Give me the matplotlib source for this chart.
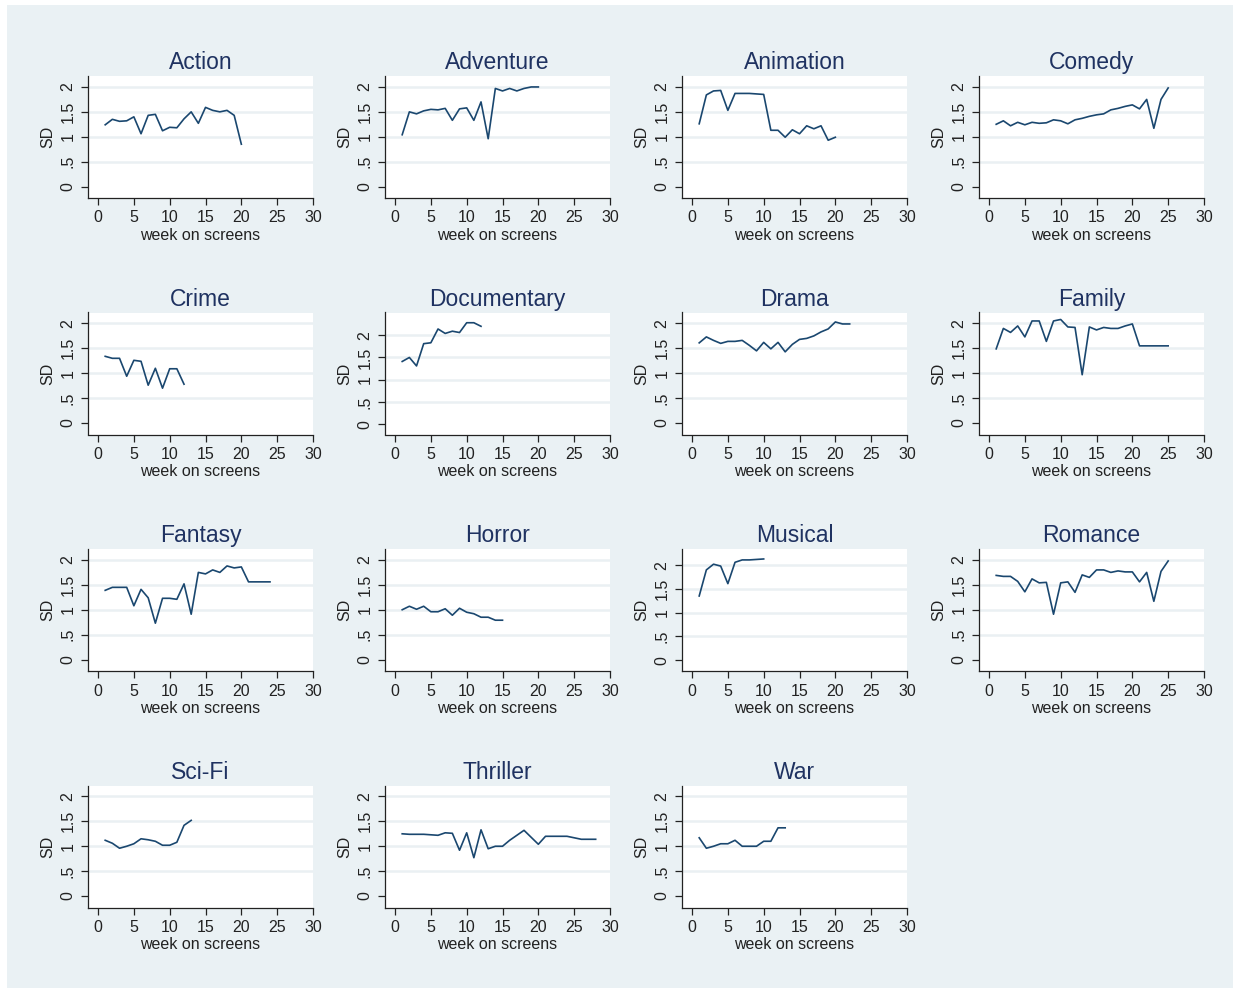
import numpy as np
import matplotlib
matplotlib.use("Agg")
import matplotlib.pyplot as plt
from matplotlib.patches import Rectangle

# SD of weekly box-office by genre, per week on screens
genres = ["Action", "Adventure", "Animation", "Comedy",
          "Crime", "Documentary", "Drama", "Family",
          "Fantasy", "Horror", "Musical", "Romance",
          "Sci-Fi", "Thriller", "War"]

sd_action = [1.24, 1.35, 1.31, 1.32, 1.40, 1.06, 1.43, 1.45, 1.12, 1.19,
             1.18, 1.36, 1.50, 1.27, 1.59, 1.53, 1.50, 1.53, 1.43, 0.85]
sd_adventure = [1.04, 1.50, 1.46, 1.52, 1.55, 1.54, 1.57, 1.33, 1.56, 1.58,
                1.33, 1.70, 0.96, 1.97, 1.92, 1.97, 1.92, 1.97, 2.00, 2.00]
sd_animation = [1.26, 1.84, 1.92, 1.93, 1.53, 1.87, 1.87, 1.87, 1.86, 1.85,
                1.13, 1.13, 0.99, 1.14, 1.06, 1.22, 1.16, 1.22, 0.93, 0.99]
sd_comedy = [1.25, 1.32, 1.22, 1.29, 1.24, 1.29, 1.27, 1.28, 1.34, 1.32,
             1.26, 1.34, 1.37, 1.41, 1.44, 1.46, 1.54, 1.57, 1.61, 1.64,
             1.56, 1.75, 1.17, 1.75, 1.98]
sd_crime = [1.34, 1.30, 1.30, 0.94, 1.26, 1.24, 0.76, 1.10, 0.70, 1.09,
            1.09, 0.78]
sd_documentary = [1.41, 1.50, 1.31, 1.81, 1.83, 2.14, 2.04, 2.09, 2.06, 2.28,
                  2.28, 2.20]
sd_drama = [1.61, 1.73, 1.66, 1.60, 1.64, 1.64, 1.66, 1.56, 1.45, 1.62,
            1.49, 1.62, 1.43, 1.58, 1.68, 1.70, 1.75, 1.83, 1.89, 2.03,
            1.99, 1.99]
sd_family = [1.49, 1.90, 1.82, 1.95, 1.73, 2.05, 2.05, 1.64, 2.05, 2.08,
             1.93, 1.92, 0.97, 1.93, 1.87, 1.92, 1.90, 1.90, 1.95, 1.99,
             1.55, 1.55, 1.55, 1.55, 1.55]
sd_fantasy = [1.39, 1.45, 1.45, 1.45, 1.08, 1.41, 1.24, 0.73, 1.23, 1.23,
              1.21, 1.52, 0.91, 1.75, 1.72, 1.80, 1.75, 1.88, 1.84, 1.86,
              1.56, 1.56, 1.56, 1.56]
sd_horror = [1.00, 1.07, 1.01, 1.07, 0.96, 0.96, 1.02, 0.89, 1.03, 0.95,
             0.92, 0.85, 0.85, 0.79, 0.79]
sd_musical = [1.35, 1.90, 2.02, 1.98, 1.61, 2.06, 2.11, 2.11, 2.12, 2.13]
sd_romance = [1.69, 1.67, 1.67, 1.57, 1.36, 1.62, 1.54, 1.55, 0.91, 1.54,
              1.56, 1.35, 1.70, 1.65, 1.80, 1.80, 1.75, 1.78, 1.76, 1.76,
              1.56, 1.75, 1.17, 1.77, 1.98]
sd_scifi = [1.12, 1.06, 0.96, 1.00, 1.05, 1.15, 1.13, 1.10, 1.02, 1.02,
            1.08, 1.42, 1.52]
sd_thriller = [1.25, 1.24, 1.24, 1.24, 1.23, 1.22, 1.27, 1.26, 0.92, 1.27,
               0.77, 1.33, 0.95, 1.00, 1.00, 1.12, 1.22, 1.32, 1.18, 1.04,
               1.20, 1.20, 1.20, 1.20, 1.17, 1.14, 1.14, 1.14]
sd_war = [1.17, 0.96, 1.00, 1.05, 1.05, 1.12, 1.00, 1.00, 1.00, 1.10,
          1.10, 1.37, 1.37]

series = [sd_action, sd_adventure, sd_animation, sd_comedy,
          sd_crime, sd_documentary, sd_drama, sd_family,
          sd_fantasy, sd_horror, sd_musical, sd_romance,
          sd_scifi, sd_thriller, sd_war]

y_ticks = [0, 0.5, 1, 1.5, 2]
y_tick_labels = ["0", ".5", "1", "1.5", "2"]
x_ticks = [0, 5, 10, 15, 20, 25, 30]

# panels with taller data get a taller y range
y_top = {"Documentary": 2.51, "Musical": 2.34}

W, H = 1235, 990
LINE = "#1a476f"
TITLE = "#1f3261"
GRID = "#eaf0f3"
BG = "#eaf1f4"

plt.rcParams["font.family"] = ["Liberation Sans", "DejaVu Sans"]

fig = plt.figure(figsize=(W / 100, H / 100), dpi=100, facecolor="white")
fig.patches.append(Rectangle((7 / W, 2 / H), 1226 / W, 983 / H,
                             transform=fig.transFigure, facecolor=BG,
                             edgecolor="none", zorder=-10))

for i, (name, vals) in enumerate(zip(genres, series)):
    r, c = divmod(i, 4)
    left = 88 + 297 * c
    top = 76 + 236.5 * r
    ax = fig.add_axes([left / W, 1 - (top + 122) / H, 225 / W, 122 / H])
    ax.set_facecolor("white")

    weeks = np.arange(1, len(vals) + 1)
    ax.plot(weeks, vals, color=LINE, lw=1.2, zorder=3)

    ax.set_xlim(-1.4, 30)
    ax.set_ylim(-0.23, y_top.get(name, 2.22))
    ax.set_xticks(x_ticks)
    ax.set_yticks(y_ticks)
    ax.set_yticklabels(y_tick_labels)
    for yv in y_ticks[1:]:
        ax.axhline(yv, color=GRID, lw=1.8, zorder=1)

    for s in ["top", "right"]:
        ax.spines[s].set_visible(False)
    for s in ["left", "bottom"]:
        ax.spines[s].set_color("#222222")
        ax.spines[s].set_linewidth(0.9)
    ax.tick_params(direction="out", length=5, width=0.9, colors="#222222",
                   labelsize=11.5, pad=4)
    ax.tick_params(axis="y", labelrotation=90)
    for lab in ax.get_yticklabels():
        lab.set_va("center")

    ax.set_title(name, fontsize=16.5, color=TITLE, pad=5)
    ax.set_ylabel("SD", fontsize=11.5, color="#222222", labelpad=4)
    ax.set_xlabel("week on screens", fontsize=11.5, color="#222222",
                  labelpad=1.5)

fig.savefig("out.png", dpi=100, facecolor="white")
